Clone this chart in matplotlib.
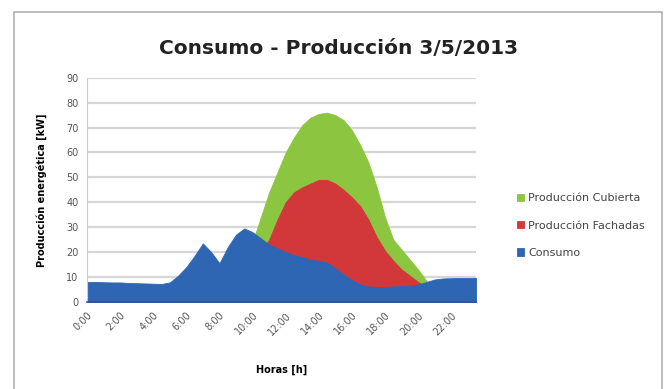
import matplotlib.pyplot as plt
import numpy as np
from matplotlib.patches import Rectangle

# half-hourly readings, 0:00 .. 23:30
horas = np.arange(0, 24, 0.5)

consumo = [8.0, 8.0, 7.9, 7.8, 7.8, 7.6, 7.5, 7.4, 7.3, 7.2,
           7.8, 10.5, 14.0, 18.5, 23.5, 20.0, 15.5, 22.0, 27.0, 29.5,
           28.0, 25.5, 23.0, 21.5, 20.0, 18.8, 18.0, 17.0, 16.5, 15.8,
           13.5, 11.0, 8.8, 7.0, 6.2, 6.0, 6.0, 6.2, 6.3, 6.5,
           7.0, 8.0, 9.0, 9.4, 9.5, 9.6, 9.6, 9.6]

prod_fachadas = [0, 0, 0, 0, 0, 0, 0, 0, 0, 0,
                 0, 0, 0.5, 1.0, 2.0, 3.5, 5.5, 7.5, 10.0, 13.0,
                 16.0, 20.0, 25.0, 33.0, 40.0, 44.0, 46.0, 47.5, 49.0, 49.0,
                 47.5, 45.0, 42.0, 38.5, 33.0, 26.0, 20.5, 16.5, 13.0, 10.5,
                 8.0, 6.0, 3.5, 1.0, 0, 0, 0, 0]

prod_cubierta = [0, 0, 0, 0, 0, 0, 0, 0, 0, 0,
                 0, 0, 0.5, 1.5, 3.0, 5.5, 8.0, 12.0, 16.0, 21.0,
                 24.0, 34.0, 44.0, 52.0, 60.0, 66.0, 71.0, 74.0, 75.5, 76.0,
                 75.0, 73.0, 69.0, 63.0, 56.0, 46.0, 34.0, 25.0, 21.0, 17.0,
                 13.0, 8.5, 4.0, 1.0, 0, 0, 0, 0]

etiquetas = ['%d:00' % h for h in range(0, 24, 2)]

fig = plt.figure(figsize=(6.64, 3.89), dpi=100)
fig.patches.append(Rectangle((14 / 664, -0.05), 648 / 664, 1.05 - 12 / 389,
                             transform=fig.transFigure, fill=False,
                             edgecolor='#b0b0b0', linewidth=1.2))

ax = fig.add_axes([0.131, 0.224, 0.586, 0.576])
ax.fill_between(horas, prod_cubierta, color='#8cc540', linewidth=0.6,
                label='Producción Cubierta')
ax.fill_between(horas, prod_fachadas, color='#d2373a', linewidth=0.6,
                label='Producción Fachadas')
ax.fill_between(horas, consumo, color='#2f66b3', linewidth=0.6,
                label='Consumo')

ax.set_xlim(0, 23.5)
ax.set_ylim(0, 90)
ax.set_yticks(range(0, 91, 10))
ax.set_xticks(range(0, 24, 2))
ax.set_xticklabels(etiquetas, rotation=45, ha='right', rotation_mode='anchor')
ax.tick_params(axis='both', labelsize=7, colors='#555555', length=0, pad=6)
ax.grid(axis='y', color='#d6d6d6', linewidth=1.6)
ax.set_axisbelow(True)
for s in ['top', 'right']:
    ax.spines[s].set_visible(False)
ax.spines['left'].set_color('#cccccc')
ax.spines['bottom'].set_color('#2a5596')
ax.spines['bottom'].set_linewidth(1.2)

ax.set_ylabel('Producción energética [kW]', fontsize=7, fontweight='bold',
              labelpad=14)
ax.set_xlabel('Horas [h]', fontsize=7, fontweight='bold', labelpad=20)

fig.text(0.51, 0.875, 'Consumo - Producción 3/5/2013', ha='center', va='center',
         fontsize=14.5, fontweight='bold', color='#222222')

ax.legend(loc='center left', bbox_to_anchor=(1.08, 0.34), frameon=False,
          fontsize=8, handlelength=0.6, handleheight=0.6, handletextpad=0.4,
          labelspacing=1.55, labelcolor='#444444')

fig.savefig('out.png', dpi=100)
